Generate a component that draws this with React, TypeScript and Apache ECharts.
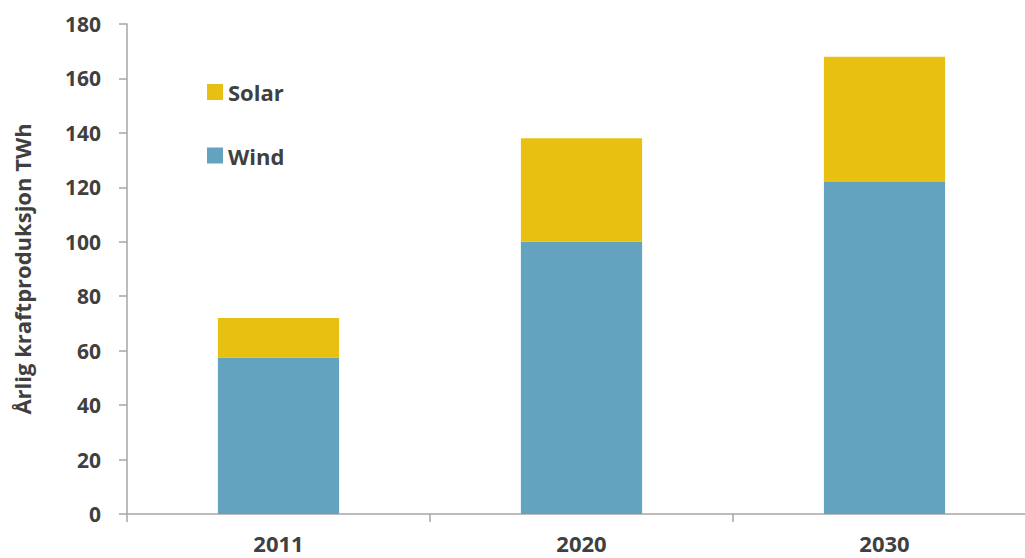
import React, { useEffect, useRef } from "react";
import * as echarts from "echarts";

const categories = ["2011", "2020", "2030"];
const windValues = [57.5, 100, 122];
const solarValues = [14.5, 38, 46];
const yTicks = { min: 0, max: 180, interval: 20 };

const textColor = "#404040";
const axisColor = "#A6A6A6";
const font = "'Open Sans', sans-serif";

export default function App() {
  const ref = useRef<HTMLDivElement>(null);
  useEffect(() => {
    if (!ref.current) return;
    const chart = echarts.init(ref.current, undefined, { renderer: "svg" });
    chart.setOption({
      animation: false,
      backgroundColor: "#ffffff",
      grid: { left: 127, right: 0, top: 24, bottom: 44, containLabel: false },
      legend: {
        data: ["Solar", "Wind"],
        orient: "vertical",
        left: 202,
        top: 76,
        itemWidth: 16,
        itemHeight: 16,
        itemGap: 41.5,
        icon: "rect",
        textStyle: { color: textColor, fontWeight: "bold", fontSize: 22, fontFamily: font },
      },
      xAxis: {
        type: "category",
        data: categories,
        axisLine: { lineStyle: { color: axisColor, width: 1.5 } },
        axisTick: { show: true, length: 8, lineStyle: { color: axisColor, width: 1.5 } },
        axisLabel: { color: textColor, fontWeight: "bold", fontSize: 22, fontFamily: font, margin: 18 },
      },
      yAxis: {
        type: "value",
        min: yTicks.min,
        max: yTicks.max,
        interval: yTicks.interval,
        name: "Årlig kraftproduksjon TWh",
        nameLocation: "middle",
        nameGap: 94,
        nameTextStyle: { color: textColor, fontWeight: "bold", fontSize: 22, fontFamily: font },
        axisLine: { show: true, lineStyle: { color: axisColor, width: 1.5 } },
        axisTick: { show: true, length: 8, lineStyle: { color: axisColor, width: 1.5 } },
        splitLine: { show: false },
        axisLabel: { color: textColor, fontWeight: "bold", fontSize: 21, fontFamily: font, margin: 26 },
      },
      series: [
        {
          name: "Wind",
          type: "bar",
          stack: "total",
          data: windValues,
          barWidth: "40%",
          itemStyle: { color: "#63A3C0" },
        },
        {
          name: "Solar",
          type: "bar",
          stack: "total",
          data: solarValues,
          barWidth: "40%",
          itemStyle: { color: "#E8C011" },
        },
      ],
    });
    return () => chart.dispose();
  }, []);
  return (
    <div
      style={{ position: "absolute", left: 0, top: 0, width: 1025, height: 558, overflow: "hidden" }}
    >
      <div ref={ref} style={{ width: 1036, height: 558 }} />
    </div>
  );
}
